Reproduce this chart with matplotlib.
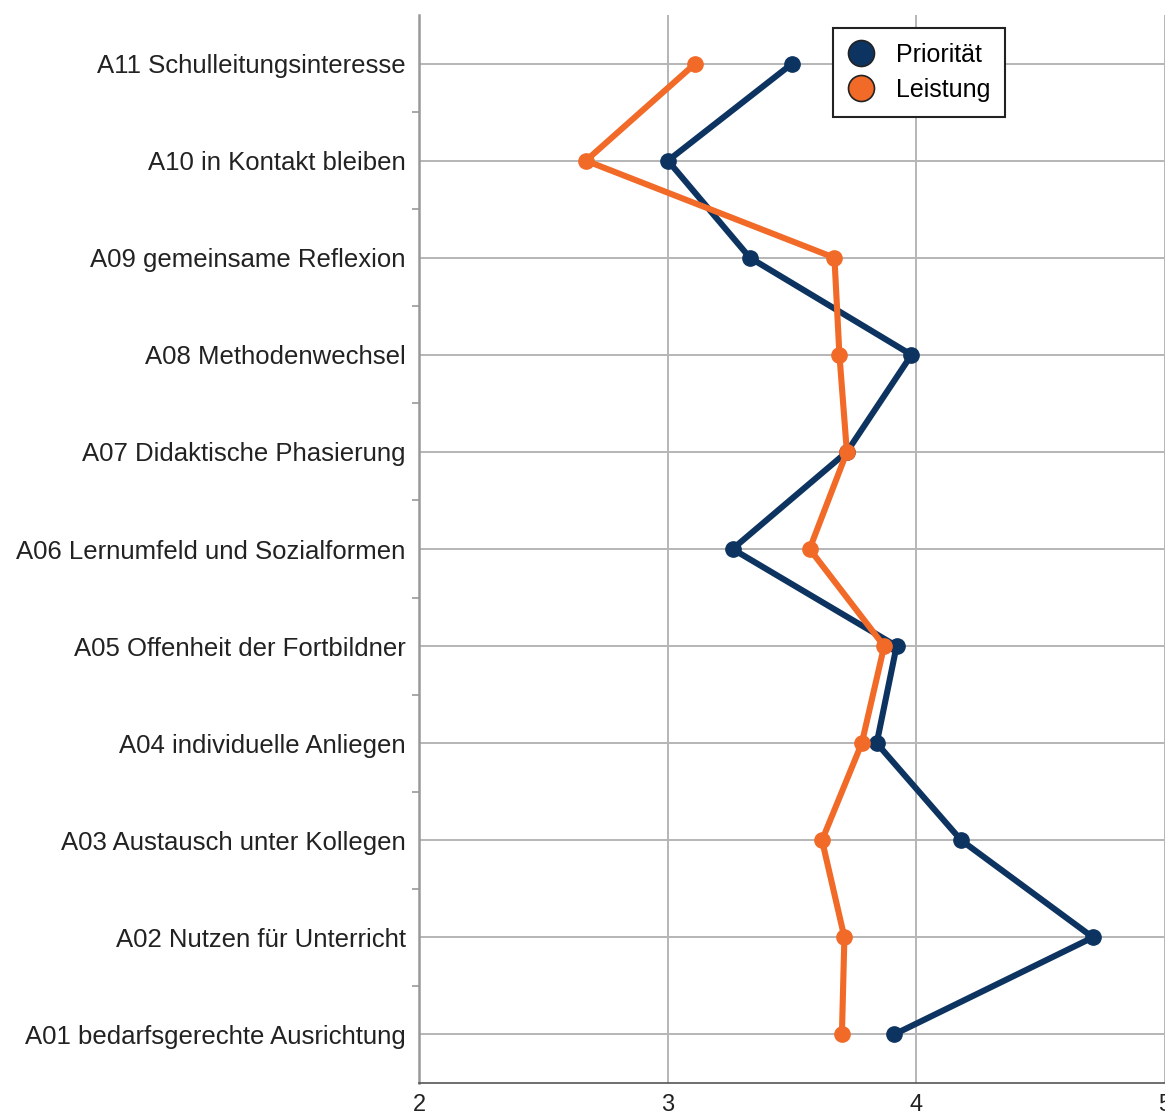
import numpy as np
import matplotlib
matplotlib.use("Agg")
from matplotlib import pyplot as plt
from matplotlib.ticker import FixedLocator

plt.rcParams['font.family'] = ['Liberation Sans', 'DejaVu Sans']

# Kategorien von oben nach unten
kategorien = ["A11 Schulleitungsinteresse",
              "A10 in Kontakt bleiben",
              "A09 gemeinsame Reflexion",
              "A08 Methodenwechsel",
              "A07 Didaktische Phasierung",
              "A06 Lernumfeld und Sozialformen",
              "A05 Offenheit der Fortbildner",
              "A04 individuelle Anliegen",
              "A03 Austausch unter Kollegen",
              "A02 Nutzen für Unterricht",
              "A01 bedarfsgerechte Ausrichtung"]
prioritaet = [3.50, 3.00, 3.33, 3.98, 3.72, 3.26, 3.92, 3.84, 4.18, 4.71, 3.91]
leistung = [3.11, 2.67, 3.67, 3.69, 3.72, 3.57, 3.87, 3.78, 3.62, 3.71, 3.70]
x_ticks = [2, 3, 4, 5]

blau = "#0d3461"
orange = "#f26a28"

fig = plt.figure(figsize=(11.65, 11.15), dpi=100)
ax = fig.add_axes([0.36, 0.0287, 0.64, 0.9578])

y = np.arange(len(kategorien))
ax.plot(prioritaet, y, color=blau, lw=4.4, marker="o", ms=11, label="Priorität", zorder=3)
ax.plot(leistung, y, color=orange, lw=4.4, marker="o", ms=11, label="Leistung", zorder=4)

ax.set_xlim(2, 5)
ax.set_ylim(len(kategorien) - 0.5, -0.5)
ax.set_xticks(x_ticks)
ax.set_yticks(y)
ax.set_yticklabels(kategorien, fontsize=18.5, color="#222222")
ax.yaxis.set_minor_locator(FixedLocator(y[:-1] + 0.5))
ax.tick_params(axis="y", which="major", length=0, pad=10)
ax.tick_params(axis="y", which="minor", length=5, color="#999999", width=1.2)
ax.tick_params(axis="x", length=0, labelsize=17, labelcolor="#222222", pad=8)

ax.grid(True, color="#b5b5b5", lw=1.4)
ax.set_axisbelow(True)
for s in ["top", "right"]:
    ax.spines[s].set_visible(False)
ax.spines["left"].set_color("#999999")
ax.spines["left"].set_linewidth(1.8)
ax.spines["bottom"].set_color("#555555")
ax.spines["bottom"].set_linewidth(1.2)

leg = ax.legend(loc="upper left", bbox_to_anchor=(0.555, 0.988), borderaxespad=0,
                fontsize=18, markerscale=1.7, handlelength=1.0, handletextpad=0.9,
                fancybox=False, edgecolor="#222222", framealpha=1,
                borderpad=0.6, labelspacing=0.45)
leg.get_frame().set_linewidth(1.5)
for h in leg.legend_handles:
    h.set_linestyle("none")
    h.set_markeredgecolor("#222222")
    h.set_markeredgewidth(1.2)

plt.savefig("out.png")
